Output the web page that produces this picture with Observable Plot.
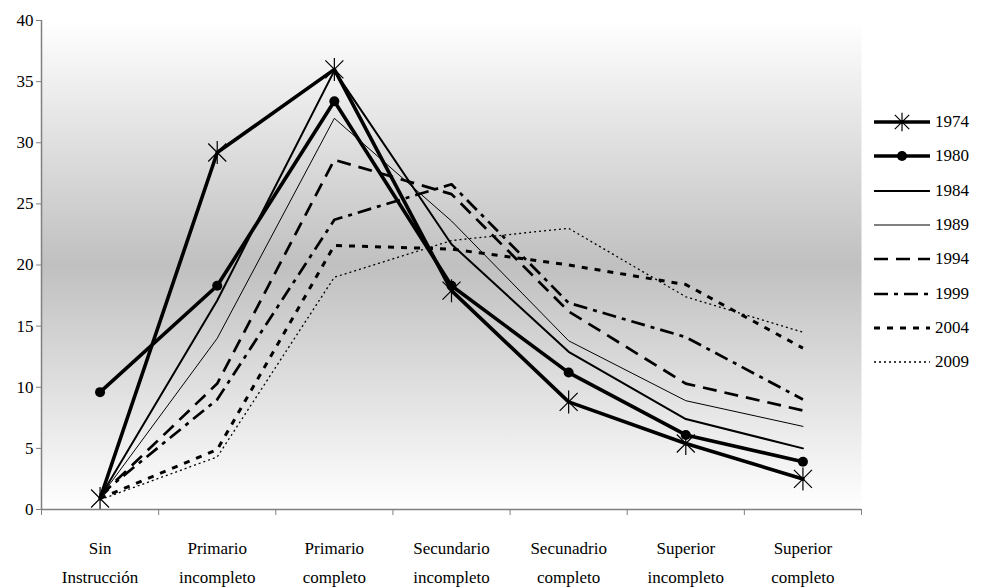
<!DOCTYPE html>
<html><head><meta charset="utf-8">
<script src="https://cdn.jsdelivr.net/npm/d3@7"></script>
<script src="https://cdn.jsdelivr.net/npm/@observablehq/plot@0.6"></script>
<style>
body{margin:0;background:#fff;}
#wrap{position:relative;width:983px;height:587px;font-family:'Liberation Serif','DejaVu Serif',serif;}
#legend{position:absolute;left:873px;top:105px;}
.row{display:flex;align-items:center;height:34.3px;font-size:17px;color:#000;font-family:'Liberation Serif','DejaVu Serif',serif;}
.row svg{display:block;margin-right:4px;}
svg text{font-family:'Liberation Serif','DejaVu Serif',serif;}
</style></head><body><div id="wrap"><div id="chart"></div><div id="legend"></div></div>
<script>
// ---- data ----
const categories = ["Sin\nInstrucción", "Primario\nincompleto", "Primario\ncompleto", "Secundario\nincompleto", "Secunadrio\ncompleto", "Superior\nincompleto", "Superior\ncompleto"];
const years = ["1974", "1980", "1984", "1989", "1994", "1999", "2004", "2009"];
const v1974 = [0.9, 29.2, 36.0, 17.9, 8.8, 5.4, 2.5];
const v1980 = [9.6, 18.3, 33.4, 18.3, 11.2, 6.1, 3.9];
const v1984 = [1.0, 17.1, 35.9, 21.7, 12.9, 7.4, 5.0];
const v1989 = [1.0, 14.0, 32.0, 23.6, 13.8, 8.9, 6.8];
const v1994 = [1.1, 10.3, 28.6, 25.8, 16.2, 10.3, 8.1];
const v1999 = [1.2, 9.0, 23.7, 26.6, 16.9, 14.1, 9.0];
const v2004 = [0.9, 4.9, 21.6, 21.3, 20.0, 18.4, 13.2];
const v2009 = [0.8, 4.3, 19.0, 22.0, 23.0, 17.4, 14.5];
const yTicks = [0, 5, 10, 15, 20, 25, 30, 35, 40];

const seriesValues = [v1974, v1980, v1984, v1989, v1994, v1999, v2004, v2009];

// ---- styles ----
const styles = {
  "1974": {w: 3.6, dash: null, marker: "star"},
  "1980": {w: 3.6, dash: null, marker: "dot"},
  "1984": {w: 2.0, dash: null},
  "1989": {w: 1.0, dash: null},
  "1994": {w: 2.7, dash: "14 8"},
  "1999": {w: 2.7, dash: "14 6 4 6"},
  "2004": {w: 3.0, dash: "6 7"},
  "2009": {w: 1.3, dash: "2 3"}
};
const FONT = "'Liberation Serif','DejaVu Serif',serif";

const starSymbol = {
  draw(ctx, size) {
    const r = Math.sqrt(size / Math.PI);
    const a = r * 0.9, b = r * 1.15;
    ctx.moveTo(-a, -a); ctx.lineTo(a, a);
    ctx.moveTo(-a, a); ctx.lineTo(a, -a);
    ctx.moveTo(0, -b); ctx.lineTo(0, b);
  }
};

const rows = years.flatMap((yr, s) => seriesValues[s].map((v, i) => ({year: yr, idx: i, value: v})));

const marks = [Plot.frame({fill: "url(#bgGrad)", stroke: "none"})];
for (const yr of years) {
  const st = styles[yr];
  const d = rows.filter(r => r.year === yr);
  marks.push(Plot.line(d, {x: "idx", y: "value", stroke: "black", strokeWidth: st.w,
    strokeDasharray: st.dash || undefined, strokeLinecap: st.dash ? "butt" : "round", strokeLinejoin: "round"}));
  if (st.marker === "star") marks.push(Plot.dot(d, {x: "idx", y: "value", symbol: starSymbol, r: 10, stroke: "black", strokeWidth: 1.2, fill: "none"}));
  if (st.marker === "dot") marks.push(Plot.dot(d, {x: "idx", y: "value", r: 5, fill: "black", stroke: "none"}));
}
marks.push(
  Plot.ruleX([-0.5], {stroke: "#808080", strokeWidth: 1.5}),
  Plot.ruleY([0], {stroke: "#808080", strokeWidth: 1.5}),
  Plot.axisY(yTicks, {label: null, tickSize: 5, tickPadding: 3, fontSize: 17, fontFamily: FONT, stroke: "#808080", fill: "black", tickFormat: d => String(d)}),
  Plot.axisX(d3.range(-0.5, categories.length, 1), {label: null, tickSize: 6, stroke: "#808080", tickFormat: () => ""}),
  Plot.axisX(d3.range(categories.length), {label: null, tickSize: 0, tickPadding: 24, fontSize: 17, fontFamily: FONT, lineHeight: 1.7, fill: "black", tickFormat: i => categories[i]})
);

const chart = Plot.plot({
  width: 983, height: 587,
  marginLeft: 41, marginRight: 122, marginTop: 20, marginBottom: 78,
  style: {fontFamily: FONT, background: "white", color: "black"},
  x: {domain: [-0.5, categories.length - 0.5], axis: null},
  y: {domain: [0, 40], axis: null},
  marks
});

const defs = d3.select(chart).insert("defs", ":first-child");
const grad = defs.append("linearGradient").attr("id", "bgGrad").attr("x1", 0).attr("y1", 0).attr("x2", 0).attr("y2", 1);
grad.append("stop").attr("offset", 0).attr("stop-color", "#ffffff");
grad.append("stop").attr("offset", 0.5).attr("stop-color", "#c0c0c0");
grad.append("stop").attr("offset", 1).attr("stop-color", "#ffffff");

document.getElementById("chart").appendChild(chart);

// ---- legend ----
const legend = d3.select("#legend");
for (const yr of years) {
  const st = styles[yr];
  const row = legend.append("div").attr("class", "row");
  const s = row.append("svg").attr("width", 58).attr("height", 24);
  s.append("line").attr("x1", 1).attr("x2", 57).attr("y1", 12).attr("y2", 12)
    .attr("stroke", "black").attr("stroke-width", st.w)
    .attr("stroke-dasharray", st.dash || null).attr("stroke-linecap", "butt");
  if (st.marker === "star") s.append("path").attr("transform", "translate(29,12)").attr("d", d3.symbol(starSymbol, 64 * Math.PI)()).attr("stroke", "black").attr("stroke-width", 1.2).attr("fill", "none");
  if (st.marker === "dot") s.append("circle").attr("cx", 29).attr("cy", 12).attr("r", 5).attr("fill", "black");
  row.append("span").text(yr);
}
</script></body></html>
